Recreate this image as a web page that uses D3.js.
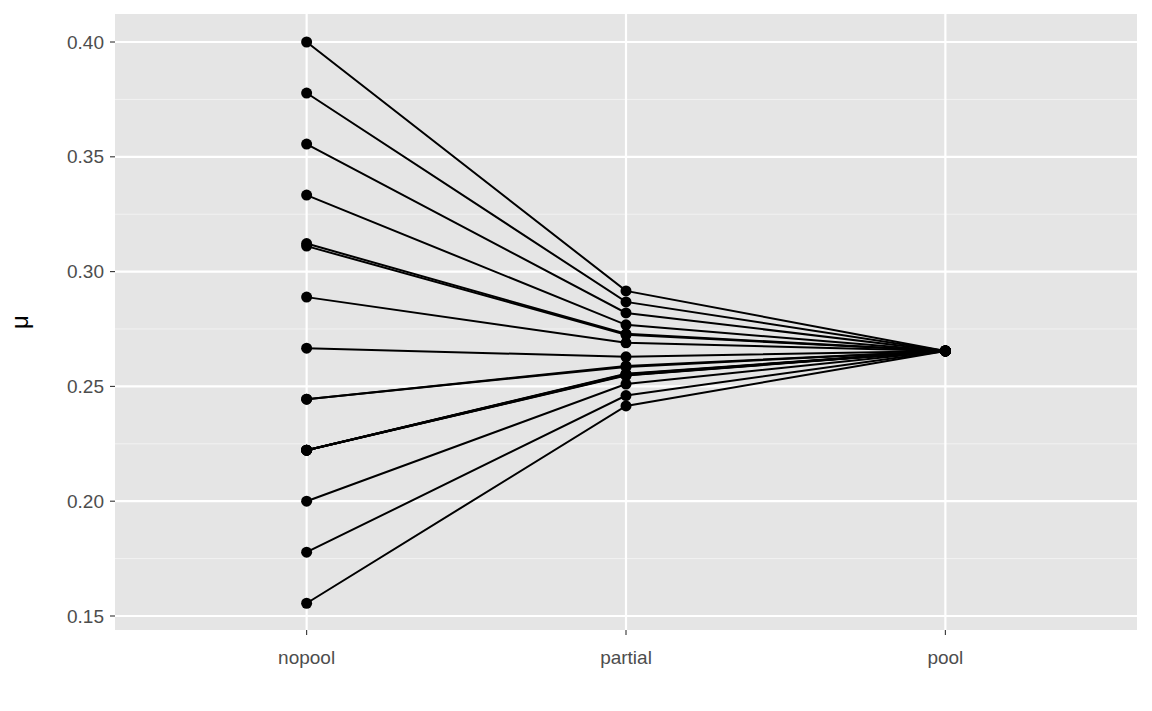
<!DOCTYPE html>
<html><head><meta charset="utf-8">
<script src="https://cdn.jsdelivr.net/npm/d3@7"></script>
<style>body{margin:0;background:#fff}</style>
</head><body>
<svg id="c" width="1152" height="711"></svg>
<script>
// model categories
var models = ["nopool", "partial", "pool"];
// one value per player for each model
var nopool = [18,17,16,15,14.05,14,13,12,11,11,10,10,10,10,10,9,8,7].map(function(h){ return h/45; });
var partial = [0.2916,0.2868,0.2820,0.2768,0.2729,0.2725,0.2690,0.2629,0.2589,0.2585,0.2555,0.2553,0.2551,0.2549,0.2547,0.2510,0.2460,0.2415];
var pool = 215/810;
var yTicks = [0.15,0.20,0.25,0.30,0.35,0.40];
var yMinor = [0.175,0.225,0.275,0.325,0.375];

var svg = d3.select("#c");
var L = 115, R = 1137, T = 14, B = 630;
var font = "Liberation Sans, Arial, sans-serif";

var x = d3.scalePoint().domain(models).range([L, R]).padding(0.6);
var y = d3.scaleLinear().domain([0.1439, 0.4122]).range([B, T]);

svg.append("rect").attr("x", L).attr("y", T).attr("width", R-L).attr("height", B-T).attr("fill", "#e5e5e5");

svg.selectAll(".mn").data(yMinor).enter().append("line")
    .attr("x1", L).attr("x2", R).attr("y1", y).attr("y2", y)
    .attr("stroke", "#f2f2f2").attr("stroke-width", 1);
svg.selectAll(".mj").data(yTicks).enter().append("line")
    .attr("x1", L).attr("x2", R).attr("y1", y).attr("y2", y)
    .attr("stroke", "#fff").attr("stroke-width", 2.2);
svg.selectAll(".vx").data(models).enter().append("line")
    .attr("y1", T).attr("y2", B).attr("x1", x).attr("x2", x)
    .attr("stroke", "#fff").attr("stroke-width", 2.2);

// lines per player
var g = svg.append("g");
nopool.forEach(function(v, i) {
    var pts = [[x("nopool"), y(v)], [x("partial"), y(partial[i])], [x("pool"), y(pool)]];
    g.append("path").attr("d", d3.line()(pts)).attr("fill", "none")
        .attr("stroke", "#000").attr("stroke-width", 2);
    pts.forEach(function(p) {
        g.append("circle").attr("cx", p[0]).attr("cy", p[1]).attr("r", 5.5).attr("fill", "#000");
    });
});

// axes
svg.selectAll(".yt").data(yTicks).enter().append("line")
    .attr("x1", L-5).attr("x2", L).attr("y1", y).attr("y2", y).attr("stroke", "#333").attr("stroke-width", 1.1);
svg.selectAll(".yl").data(yTicks).enter().append("text")
    .attr("x", L-11).attr("y", y).attr("dy", "0.35em").attr("text-anchor", "end")
    .attr("font-family", font).attr("font-size", 19).attr("fill", "#4d4d4d")
    .text(function(d){ return d.toFixed(2); });
svg.selectAll(".xt").data(models).enter().append("line")
    .attr("x1", x).attr("x2", x).attr("y1", B).attr("y2", B+5).attr("stroke", "#333").attr("stroke-width", 1.1);
svg.selectAll(".xl").data(models).enter().append("text")
    .attr("x", x).attr("y", B+34).attr("text-anchor", "middle")
    .attr("font-family", font).attr("font-size", 19).attr("fill", "#4d4d4d")
    .text(function(d){ return d; });

svg.append("text").attr("transform", "translate(28," + ((T+B)/2) + ") rotate(-90)")
    .attr("text-anchor", "middle").attr("font-family", font)
    .attr("font-size", 24).attr("fill", "#000").text("μ");
</script>
</body></html>
